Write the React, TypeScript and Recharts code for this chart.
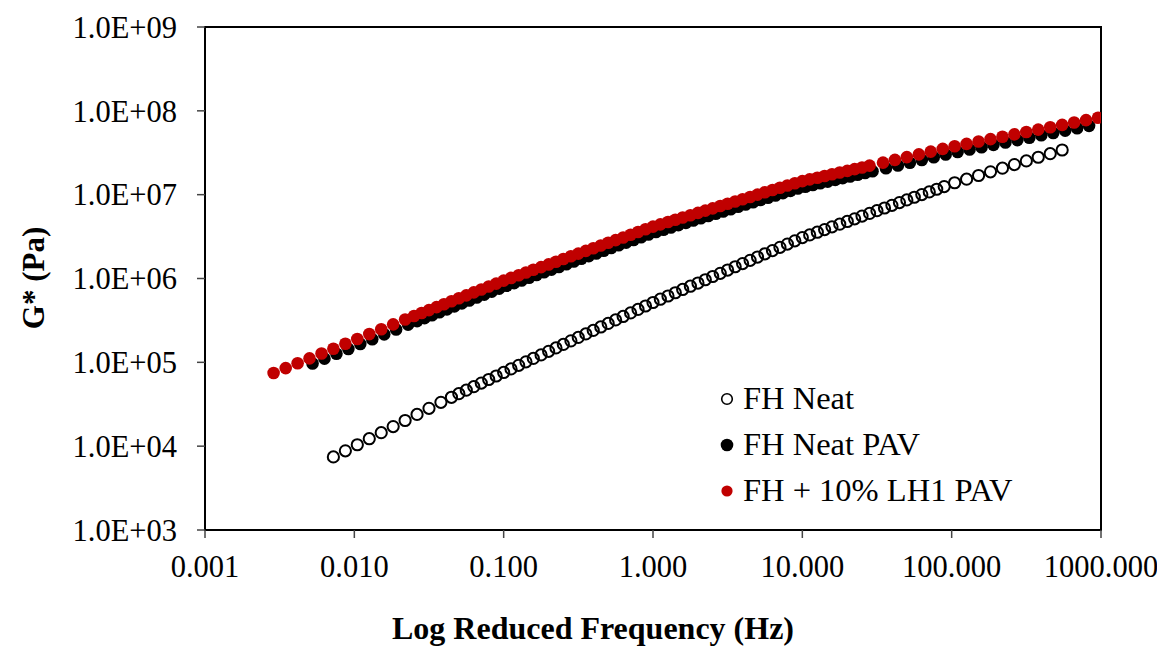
import React from 'react';
import { ScatterChart, Scatter, XAxis, YAxis, ReferenceArea, Legend, Label } from 'recharts';

// ---- Data (frequency in Hz, G* in Pa) ----
const neatFreq = [
  0.00724, 0.00871, 0.01047, 0.01259, 0.01514, 0.0182, 0.02188, 0.0263, 0.03162, 0.038,
  0.0447, 0.0501, 0.0562, 0.0631, 0.0708, 0.0794, 0.0891, 0.1, 0.112, 0.126,
  0.141, 0.158, 0.178, 0.2, 0.224, 0.251, 0.282, 0.316, 0.355, 0.398, 0.447, 0.501, 0.562, 0.631, 0.708, 0.794, 0.891, 1.0,
  1.12, 1.26, 1.41, 1.58, 1.78, 2.0, 2.24, 2.51, 2.82, 3.16, 3.55, 3.98, 4.47, 5.01, 5.62, 6.31, 7.08, 7.94, 8.91, 10,
  11.2, 12.6, 14.1, 15.8, 17.8, 20.0, 22.4, 25.1, 28.2, 31.6, 35.5, 39.8, 44.7, 50.1, 56.2, 63.1, 70.8, 79.4, 89.1,
  104.7, 125.9, 151.4, 182, 218.8, 263, 316.2, 380, 457, 549.5,
];
const neatG = [
  7.45e3, 8.79e3, 1.04e4, 1.227e4, 1.449e4, 1.714e4, 2.023e4, 2.393e4, 2.825e4, 3.334e4,
  3.83e4, 4.23e4, 4.66e4, 5.13e4, 5.65e4, 6.24e4, 6.87e4, 7.57e4, 8.34e4, 9.2e4,
  1.014e5, 1.114e5, 1.227e5, 1.352e5, 1.486e5, 1.637e5, 1.803e5, 1.982e5, 2.183e5, 2.404e5, 2.642e5, 2.911e5, 3.206e5, 3.524e5, 3.882e5, 4.276e5, 4.699e5, 5.176e5,
  5.66e5, 6.18e5, 6.76e5, 7.4e5, 8.09e5, 8.83e5, 9.66e5, 1.057e6, 1.153e6, 1.262e6, 1.38e6, 1.507e6, 1.648e6, 1.803e6, 1.972e6, 2.153e6, 2.355e6, 2.576e6, 2.812e6, 3.076e6,
  3.311e6, 3.565e6, 3.837e6, 4.13e6, 4.45e6, 4.79e6, 5.15e6, 5.55e6, 5.97e6, 6.44e6, 6.93e6, 7.46e6, 8.04e6, 8.65e6, 9.31e6, 1.002e7, 1.079e7, 1.161e7, 1.25e7,
  1.387e7, 1.531e7, 1.694e7, 1.871e7, 2.07e7, 2.286e7, 2.529e7, 2.793e7, 3.083e7, 3.412e7,
];

const pavFreq = [
  0.00525, 0.00631, 0.00759, 0.00912, 0.01096, 0.01318, 0.01585, 0.01905, 0.02291,
  0.0263, 0.0295, 0.0331, 0.03715, 0.04169, 0.04677, 0.05248, 0.05888, 0.06607, 0.07413, 0.08318, 0.09333,
  0.1047, 0.1175, 0.1318, 0.1479, 0.166, 0.1862, 0.2089, 0.2344, 0.263, 0.2951, 0.3311, 0.3715, 0.4169, 0.4677, 0.5248, 0.5888, 0.6607, 0.7413, 0.8318, 0.9333,
  1.047, 1.175, 1.318, 1.479, 1.66, 1.862, 2.089, 2.344, 2.63, 2.951, 3.311, 3.715, 4.169, 4.677, 5.248, 5.888, 6.607, 7.413, 8.318, 9.333,
  10.47, 11.75, 13.18, 14.79, 16.6, 18.62, 20.89, 23.44, 26.3, 29.51,
  36.31, 43.65, 52.48, 63.1, 75.86, 91.2, 109.6, 131.8, 158.5, 190.5, 229.1, 275.4, 331.1, 398.1, 478.6, 575.4, 691.8, 831.8,
];
const pavG = [
  9.68e4, 1.107e5, 1.265e5, 1.445e5, 1.652e5, 1.888e5, 2.158e5, 2.466e5, 2.818e5,
  3.105e5, 3.365e5, 3.648e5, 3.954e5, 4.285e5, 4.656e5, 5.047e5, 5.47e5, 5.929e5, 6.427e5, 6.966e5, 7.568e5,
  8.185e5, 8.81e5, 9.484e5, 1.021e6, 1.099e6, 1.186e6, 1.276e6, 1.374e6, 1.479e6, 1.592e6, 1.718e6, 1.849e6, 1.991e6, 2.143e6, 2.307e6, 2.489e6, 2.679e6, 2.884e6, 3.105e6, 3.342e6,
  3.589e6, 3.819e6, 4.064e6, 4.335e6, 4.613e6, 4.909e6, 5.224e6, 5.572e6, 5.929e6, 6.31e6, 6.714e6, 7.161e6, 7.621e6, 8.11e6, 8.63e6, 9.204e6, 9.795e6, 1.042e7, 1.109e7, 1.183e7,
  1.245e7, 1.303e7, 1.368e7, 1.432e7, 1.503e7, 1.574e7, 1.648e7, 1.73e7, 1.811e7, 1.901e7,
  2.07e7, 2.228e7, 2.404e7, 2.594e7, 2.793e7, 3.013e7, 3.228e7, 3.451e7, 3.681e7, 3.926e7, 4.198e7, 4.477e7, 4.775e7, 5.105e7, 5.445e7, 5.808e7, 6.209e7, 6.622e7,
];

const lh1Freq = [
  0.00288, 0.00347, 0.00417, 0.00501, 0.00603, 0.00724, 0.00871, 0.01047, 0.01259, 0.01514, 0.0182, 0.02188,
  0.0251, 0.0282, 0.0316, 0.0355, 0.0398, 0.0447, 0.0501, 0.0562, 0.0631, 0.0708, 0.0794, 0.0891, 0.1,
  0.112, 0.126, 0.141, 0.158, 0.178, 0.2, 0.224, 0.251, 0.282, 0.316, 0.355, 0.398, 0.447, 0.501, 0.562, 0.631, 0.708, 0.794, 0.891, 1.0,
  1.12, 1.26, 1.41, 1.58, 1.78, 2.0, 2.24, 2.51, 2.82, 3.16, 3.55, 3.98, 4.47, 5.01, 5.62, 6.31, 7.08, 7.94, 8.91,
  10, 11.2, 12.6, 14.1, 15.8, 17.8, 20, 22.4, 25.1, 28.2,
  34.7, 41.7, 50.1, 60.3, 72.4, 87.1, 104.7, 125.9, 151.4, 182, 218.8, 263, 316.2, 380, 457, 549.5, 660.7, 794.3, 955,
];
const lh1G = [
  7.46e4, 8.53e4, 9.75e4, 1.114e5, 1.274e5, 1.455e5, 1.663e5, 1.901e5, 2.173e5, 2.483e5, 2.838e5, 3.243e5,
  3.573e5, 3.873e5, 4.198e5, 4.55e5, 4.932e5, 5.358e5, 5.808e5, 6.295e5, 6.823e5, 7.396e5, 8.017e5, 8.69e5, 9.441e5,
  1.016e6, 1.094e6, 1.178e6, 1.271e6, 1.368e6, 1.472e6, 1.585e6, 1.706e6, 1.841e6, 1.982e6, 2.133e6, 2.296e6, 2.472e6, 2.667e6, 2.871e6, 3.09e6, 3.327e6, 3.581e6, 3.864e6, 4.159e6,
  4.426e6, 4.721e6, 5.023e6, 5.346e6, 5.689e6, 6.067e6, 6.457e6, 6.871e6, 7.311e6, 7.798e6, 8.299e6, 8.831e6, 9.397e6, 1.002e7, 1.067e7, 1.135e7, 1.208e7, 1.288e7, 1.371e7,
  1.452e7, 1.521e7, 1.592e7, 1.671e7, 1.75e7, 1.837e7, 1.923e7, 2.018e7, 2.113e7, 2.218e7,
  2.41e7, 2.6e7, 2.805e7, 3.027e7, 3.258e7, 3.516e7, 3.776e7, 4.036e7, 4.305e7, 4.592e7, 4.909e7, 5.236e7, 5.585e7, 5.97e7, 6.368e7, 6.792e7, 7.261e7, 7.745e7, 8.26e7,
];

const seriesNames = ['FH Neat', 'FH Neat PAV', 'FH + 10% LH1 PAV'];

const xTicks = [0.001, 0.01, 0.1, 1, 10, 100, 1000];
const xTickLabels = ['0.001', '0.010', '0.100', '1.000', '10.000', '100.000', '1000.000'];
const yTicks = [1e3, 1e4, 1e5, 1e6, 1e7, 1e8, 1e9];
const yTickLabels = ['1.0E+03', '1.0E+04', '1.0E+05', '1.0E+06', '1.0E+07', '1.0E+08', '1.0E+09'];

const xTitle = 'Log Reduced Frequency (Hz)';
const yTitle = 'G* (Pa)';

// ---- Build tables ----
const toRows = (fs: number[], gs: number[]) => fs.map((f, i) => ({ f, g: gs[i] }));
const neatData = toRows(neatFreq, neatG);
const pavData = toRows(pavFreq, pavG);
const lh1Data = toRows(lh1Freq, lh1G);

const FONT = '"Liberation Serif", "Times New Roman", Times, serif';
const RED = '#C00000';

const OpenDot = (p: any) => (
  <circle cx={p.cx} cy={p.cy} r={5.6} fill="none" stroke="#000" strokeWidth={2} />
);
const BlackDot = (p: any) => <circle cx={p.cx} cy={p.cy} r={6.3} fill="#000" />;
const RedDot = (p: any) => <circle cx={p.cx} cy={p.cy} r={6.3} fill={RED} />;

const legendMarkers = [
  <circle key="a" cx={8} cy={8} r={5.3} fill="none" stroke="#000" strokeWidth={1.6} />,
  <circle key="b" cx={8} cy={8} r={6.3} fill="#000" />,
  <circle key="c" cx={8} cy={8} r={5.6} fill={RED} />,
];

const LegendContent = () => (
  <div style={{ fontFamily: FONT, fontSize: 32.5, color: '#000' }}>
    {seriesNames.map((name, i) => (
      <div key={name} style={{ display: 'flex', alignItems: 'center', height: 46 }}>
        <svg width={16} height={16} style={{ display: 'block' }}>
          {legendMarkers[i]}
        </svg>
        <span style={{ marginLeft: 8, whiteSpace: 'nowrap', lineHeight: 1.1 }}>{name}</span>
      </div>
    ))}
  </div>
);

export default function App() {
  return (
    <div style={{ width: 1157, height: 640 }}>
      <ScatterChart
        width={1157}
        height={640}
        margin={{ top: 19, right: 64, bottom: 0, left: 0 }}
      >
        <XAxis
          dataKey="f"
          type="number"
          scale="log"
          domain={[0.001, 1000]}
          allowDataOverflow
          ticks={xTicks}
          interval={0}
          tickFormatter={(v: number) => xTickLabels[xTicks.indexOf(v)] ?? String(v)}
          height={118}
          tickSize={8}
          tickMargin={17}
          axisLine={{ stroke: '#000', strokeWidth: 2 }}
          tickLine={{ stroke: '#444', strokeWidth: 1.5 }}
          tick={{ fill: '#000', fontSize: 30.5, fontFamily: FONT }}
        >
          <Label
            value={xTitle}
            content={() => (
              <text
                x={585}
                y={631}
                textAnchor="middle"
                fontFamily={FONT}
                fontSize={32}
                fontWeight="bold"
                fill="#000"
              >
                {xTitle}
              </text>
            )}
          />
        </XAxis>
        <YAxis
          dataKey="g"
          type="number"
          scale="log"
          domain={[1e3, 1e9]}
          allowDataOverflow
          ticks={yTicks}
          interval={0}
          tickFormatter={(v: number) => yTickLabels[yTicks.indexOf(v)] ?? String(v)}
          width={197}
          tickSize={8}
          tickMargin={20}
          axisLine={{ stroke: '#000', strokeWidth: 2 }}
          tickLine={{ stroke: '#444', strokeWidth: 1.5 }}
          tick={{ fill: '#000', fontSize: 30.5, fontFamily: FONT }}
        >
          <Label
            value={yTitle}
            content={() => (
              <text
                x={36}
                y={270}
                transform="rotate(-90, 36, 270)"
                textAnchor="middle"
                fontFamily={FONT}
                fontSize={31}
                fontWeight="bold"
                fill="#000"
              >
                {yTitle}
              </text>
            )}
          />
        </YAxis>
        <ReferenceArea
          x1={0.001}
          x2={1000}
          y1={1e3}
          y2={1e9}
          fill="none"
          fillOpacity={0}
          stroke="#000"
          strokeWidth={2}
        />
        <Scatter name={seriesNames[0]} data={neatData} shape={OpenDot} isAnimationActive={false} />
        <Scatter name={seriesNames[1]} data={pavData} shape={BlackDot} isAnimationActive={false} />
        <Scatter name={seriesNames[2]} data={lh1Data} shape={RedDot} isAnimationActive={false} />
        <Legend
          layout="vertical"
          align="center"
          verticalAlign="middle"
          wrapperStyle={{ left: 711, top: 368, width: 340 }}
          content={LegendContent}
        />
      </ScatterChart>
    </div>
  );
}
